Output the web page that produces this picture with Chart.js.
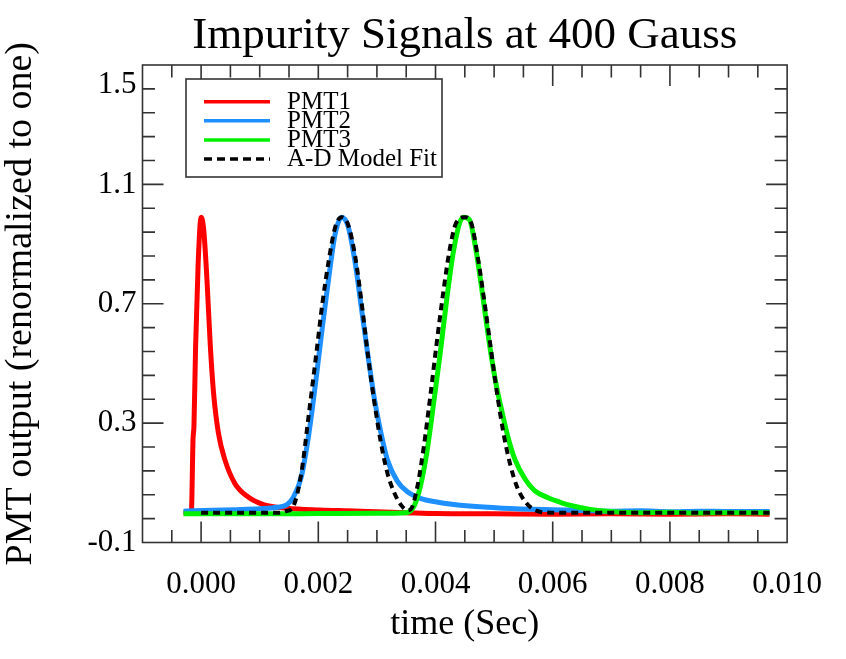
<!DOCTYPE html>
<html>
<head>
<meta charset="utf-8">
<script src="https://cdn.jsdelivr.net/npm/chart.js@4.4.1/dist/chart.umd.min.js"></script>
<style>
  html, body { margin: 0; padding: 0; background: #fff; }
  canvas { display: block; }
</style>
</head>
<body>
<canvas id="c" width="846" height="659"></canvas>
<script>
// ---- data ----
const pmt1Time   = [-0.0003, -0.000167, -0.000137, -0.000122, -0.000094, -0.00005, 0.0, 0.000045, 0.0001, 0.000158, 0.000213, 0.000296, 0.000408, 0.000576, 0.000798, 0.001078, 0.001468, 0.002025, 0.0025, 0.003, 0.0035, 0.004, 0.005, 0.006, 0.007, 0.008, 0.009, 0.0097];
const pmt1Signal = [0.0, 0.0, 0.25, 0.29, 0.556, 0.836, 0.99, 0.947, 0.78, 0.556, 0.40, 0.266, 0.176, 0.098, 0.053, 0.026, 0.015, 0.009, 0.006, 0.003, 0.0, -0.003, -0.004, -0.005, -0.004, -0.005, -0.004, -0.005];

const pmt2Time   = [-0.0003, 0.0002, 0.0006, 0.001, 0.0013, 0.00146, 0.00157, 0.00171, 0.00184, 0.00196, 0.00207, 0.00218, 0.00229, 0.0024, 0.00251, 0.00263, 0.00274, 0.00285, 0.00296, 0.00307, 0.00318, 0.00335, 0.00352, 0.00374, 0.00402, 0.00458, 0.00514, 0.00625, 0.007, 0.0075, 0.008, 0.0085, 0.009, 0.0097];
const pmt2Signal = [0.005, 0.008, 0.010, 0.013, 0.018, 0.026, 0.05, 0.12, 0.266, 0.445, 0.623, 0.79, 0.936, 0.99, 0.958, 0.836, 0.679, 0.523, 0.378, 0.266, 0.176, 0.105, 0.07, 0.048, 0.036, 0.022, 0.015, 0.009, 0.005, 0.006, 0.003, 0.005, 0.004, 0.004];

const pmt3Time   = [-0.0003, 0.001, 0.002, 0.003, 0.0035, 0.00363, 0.00374, 0.00385, 0.00396, 0.00408, 0.00419, 0.0043, 0.00441, 0.00448, 0.00458, 0.00469, 0.0048, 0.00491, 0.00502, 0.00514, 0.00525, 0.00536, 0.00553, 0.00569, 0.00592, 0.00614, 0.00631, 0.00664, 0.00698, 0.0075, 0.008, 0.0085, 0.009, 0.0097];
const pmt3Signal = [-0.004, -0.004, -0.003, -0.002, 0.0, 0.02, 0.087, 0.199, 0.355, 0.534, 0.713, 0.869, 0.97, 0.99, 0.981, 0.88, 0.735, 0.579, 0.445, 0.333, 0.243, 0.176, 0.112, 0.074, 0.050, 0.034, 0.024, 0.011, 0.004, 0.0, 0.001, -0.001, 0.0, 0.0];

const fitTime   = [0.0, 0.0008, 0.00134, 0.00145, 0.00157, 0.00171, 0.00184, 0.00196, 0.00207, 0.00218, 0.00229, 0.0024, 0.00251, 0.00263, 0.00274, 0.00285, 0.00296, 0.00307, 0.00318, 0.0033, 0.00341, 0.00352, 0.00358, 0.00369, 0.0038, 0.00391, 0.00402, 0.00413, 0.00424, 0.00435, 0.0045, 0.00461, 0.00472, 0.00483, 0.00494, 0.00505, 0.00516, 0.00527, 0.00539, 0.00553, 0.00569, 0.00597, 0.007, 0.008, 0.009, 0.0097];
const fitSignal = [0.0, 0.0, 0.0, 0.005, 0.02, 0.132, 0.333, 0.523, 0.702, 0.847, 0.958, 0.99, 0.964, 0.858, 0.702, 0.523, 0.366, 0.232, 0.132, 0.065, 0.026, 0.008, 0.012, 0.087, 0.221, 0.389, 0.568, 0.735, 0.88, 0.97, 0.99, 0.97, 0.858, 0.713, 0.556, 0.40, 0.266, 0.165, 0.087, 0.037, 0.009, 0.0, 0.0, 0.0, 0.0, 0.0];

const seriesLabels = ['PMT1', 'PMT2', 'PMT3', 'A-D Model Fit'];
const xTickValues = [0.000, 0.002, 0.004, 0.006, 0.008, 0.010];
const yTickValues = [-0.1, 0.3, 0.7, 1.1, 1.5];
const xMinorStep = 0.0005;
const yMinorStep = 0.08;

// ---- helpers ----
const toPoints = (t, v) => t.map((x, i) => ({ x: x, y: v[i] }));
const SERIF = 'Liberation Serif';

const whiteBg = {
  id: 'whiteBg',
  beforeDraw(chart) {
    const c = chart.ctx;
    c.save(); c.fillStyle = '#fff'; c.fillRect(0, 0, chart.width, chart.height); c.restore();
  }
};

const framePlugin = {
  id: 'frame',
  afterDatasetsDraw(chart) {
    const c = chart.ctx, a = chart.chartArea, xs = chart.scales.x, ys = chart.scales.y;
    c.save();
    c.strokeStyle = '#333';
    c.lineWidth = 1.6;
    c.strokeRect(a.left, a.top, a.right - a.left, a.bottom - a.top);
    const majLen = 21, minLen = 12.5;
    c.beginPath();
    const nx = Math.round((xs.max - xs.min) / xMinorStep);
    for (let i = 1; i < nx; i++) {
      const v = xs.min + i * xMinorStep;
      const major = xTickValues.some(t => Math.abs(t - v) < 1e-9);
      const px = xs.getPixelForValue(v);
      const L = major ? majLen : minLen;
      c.moveTo(px, a.bottom); c.lineTo(px, a.bottom - L);
      c.moveTo(px, a.top); c.lineTo(px, a.top + L);
    }
    const ny = Math.round((ys.max - ys.min) / yMinorStep);
    for (let i = 1; i < ny; i++) {
      const v = ys.min + i * yMinorStep;
      const major = yTickValues.some(t => Math.abs(t - v) < 1e-9);
      const py = ys.getPixelForValue(v);
      const L = major ? majLen : minLen;
      c.moveTo(a.left, py); c.lineTo(a.left + L, py);
      c.moveTo(a.right, py); c.lineTo(a.right - L, py);
    }
    c.stroke();
    c.restore();
  }
};

const boxLegend = {
  id: 'boxLegend',
  afterDraw(chart) {
    const c = chart.ctx;
    const box = { left: 186, top: 79, right: 442, bottom: 177 };
    c.save();
    c.fillStyle = '#fff';
    c.fillRect(box.left, box.top, box.right - box.left, box.bottom - box.top);
    c.strokeStyle = '#333';
    c.lineWidth = 1.6;
    c.strokeRect(box.left, box.top, box.right - box.left, box.bottom - box.top);
    c.font = '25px "' + SERIF + '"';
    c.textAlign = 'left';
    c.textBaseline = 'alphabetic';
    chart.data.datasets.forEach((ds, i) => {
      const y = 101.7 + i * 19.1;
      c.beginPath();
      c.strokeStyle = ds.borderColor;
      c.lineWidth = 3.5;
      c.setLineDash(ds.borderDash && ds.borderDash.length ? [8, 5] : []);
      c.moveTo(204, y); c.lineTo(270, y);
      c.stroke();
      c.setLineDash([]);
      c.fillStyle = '#000';
      c.fillText(ds.label, 287, y + 6.8);
    });
    c.restore();
  }
};

new Chart(document.getElementById('c'), {
  type: 'line',
  data: {
    datasets: [
      { label: seriesLabels[0], data: toPoints(pmt1Time, pmt1Signal), borderColor: '#ff0000', borderWidth: 5, order: 3 },
      { label: seriesLabels[1], data: toPoints(pmt2Time, pmt2Signal), borderColor: '#1e90ff', borderWidth: 5, order: 2 },
      { label: seriesLabels[2], data: toPoints(pmt3Time, pmt3Signal), borderColor: '#00f000', borderWidth: 5, order: 1 },
      { label: seriesLabels[3], data: toPoints(fitTime, fitSignal), borderColor: '#000000', borderWidth: 4, borderDash: [7, 5], order: 0 }
    ]
  },
  options: {
    responsive: false,
    animation: false,
    devicePixelRatio: 1,
    elements: {
      point: { radius: 0, hoverRadius: 0 },
      line: { cubicInterpolationMode: 'monotone', fill: false, borderCapStyle: 'butt', borderJoinStyle: 'round' }
    },
    layout: { padding: { left: 0, right: 45, top: 0, bottom: 16 } },
    plugins: {
      legend: { display: false },
      tooltip: { enabled: false },
      title: {
        display: true,
        fullSize: false,
        text: 'Impurity Signals at 400 Gauss',
        color: '#000',
        font: { family: SERIF, size: 45, weight: 'normal', lineHeight: 1 },
        padding: { top: 14, bottom: 6 }
      }
    },
    scales: {
      x: {
        type: 'linear',
        min: -0.001,
        max: 0.010,
        afterBuildTicks: (s) => { s.ticks = xTickValues.map(v => ({ value: v })); },
        afterFit: (s) => { s.height = 659 - 16 - 542.5; },
        grid: { display: false, drawTicks: false },
        border: { display: false },
        ticks: {
          autoSkip: false, maxRotation: 0, minRotation: 0,
          padding: 24,
          color: '#000',
          font: { family: SERIF, size: 31 },
          callback: (v) => Number(v).toFixed(3)
        },
        title: {
          display: true,
          text: 'time (Sec)',
          color: '#000',
          font: { family: SERIF, size: 36, lineHeight: 1 },
          padding: { top: 0, bottom: 0 }
        }
      },
      y: {
        type: 'linear',
        min: -0.1,
        max: 1.5,
        afterBuildTicks: (s) => { s.ticks = yTickValues.map(v => ({ value: v })); },
        afterFit: (s) => { s.width = 142.5; },
        grid: { display: false, drawTicks: false },
        border: { display: false },
        ticks: {
          padding: 6,
          color: '#000',
          font: { family: SERIF, size: 31, lineHeight: 1.25 },
          callback: (v) => Math.abs(v - 1.5) < 1e-9 ? ['', '1.5'] : Number(v).toFixed(1)
        },
        title: {
          display: true,
          text: 'PMT output (renormalized to one)',
          color: '#000',
          font: { family: SERIF, size: 38, lineHeight: 1 },
          padding: { top: 2, bottom: 0 }
        }
      }
    }
  },
  plugins: [whiteBg, framePlugin, boxLegend]
});
</script>
</body>
</html>
